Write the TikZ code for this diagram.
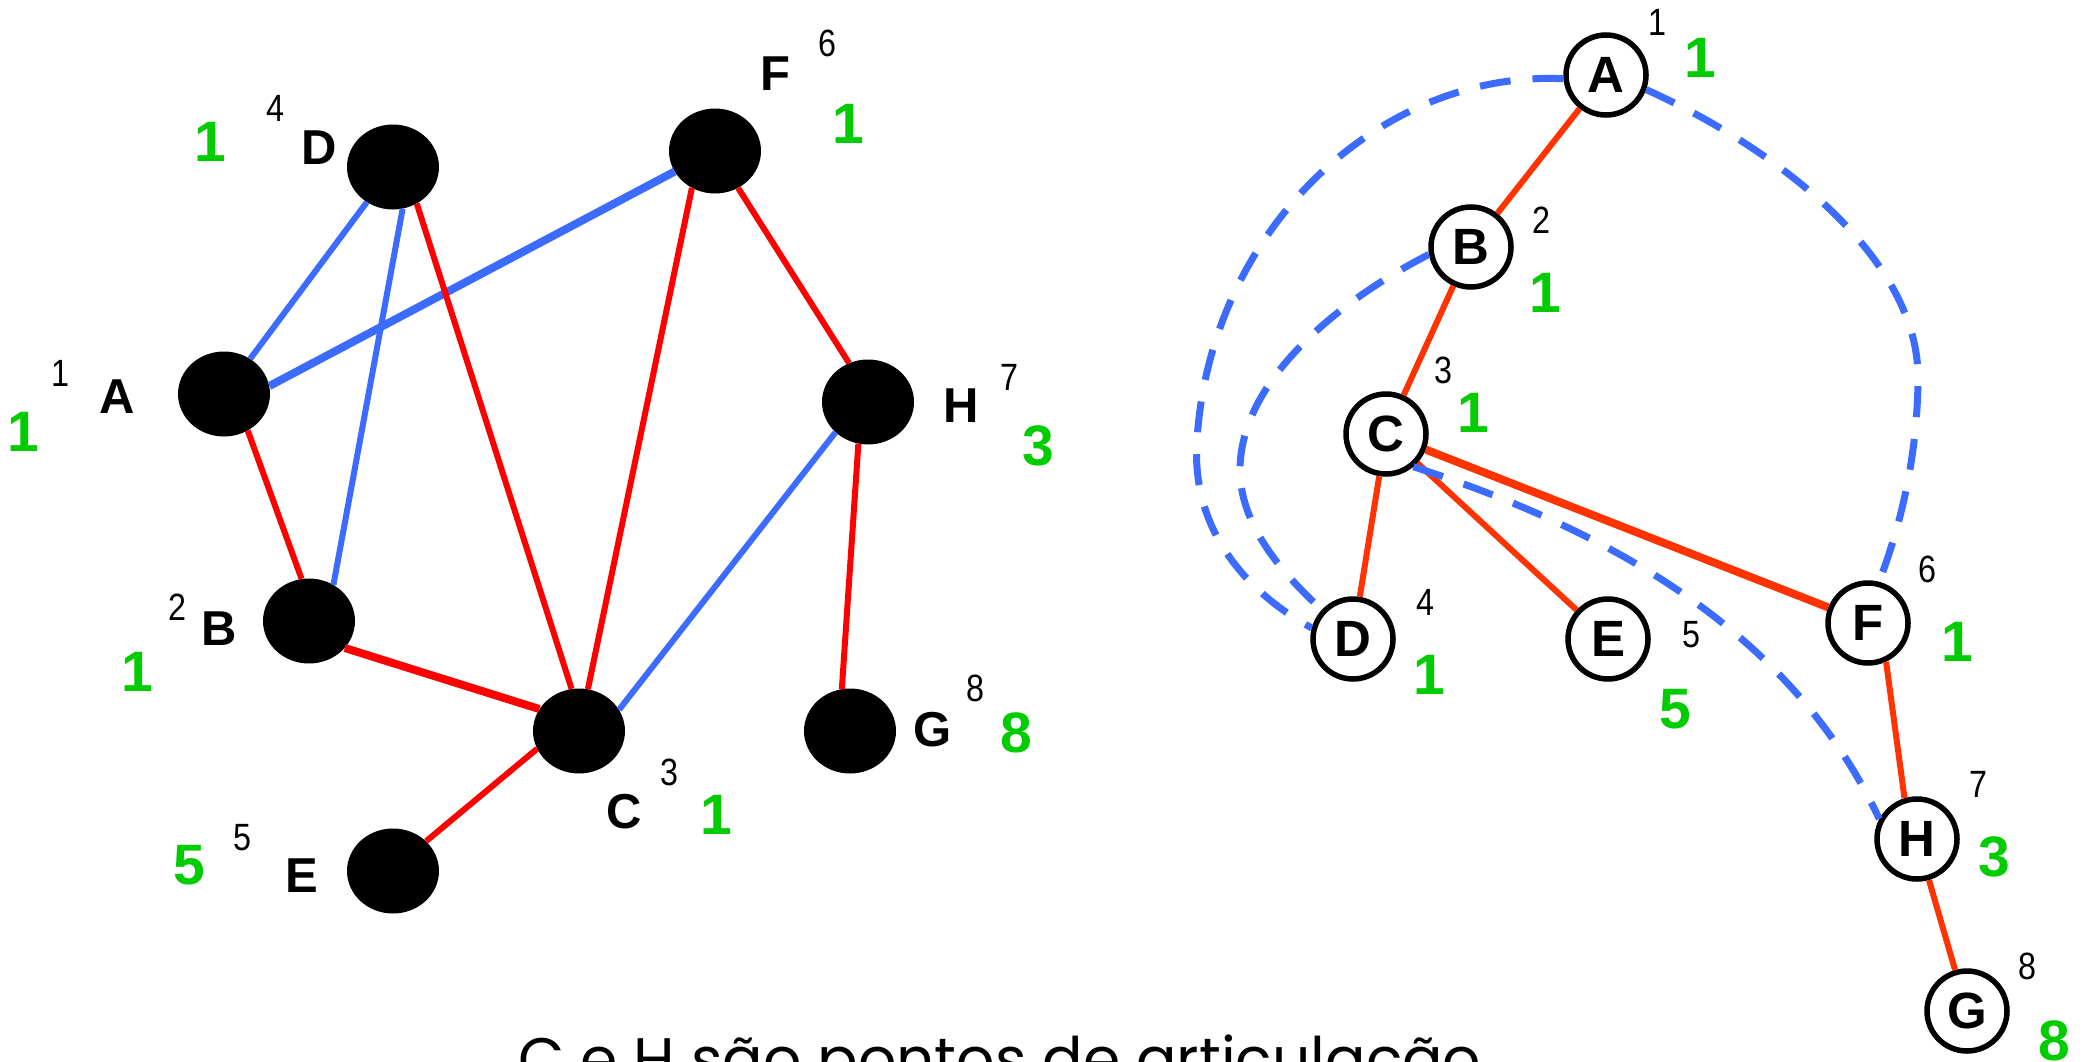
\documentclass[tikz,border=0pt]{standalone}
\usepackage{fontspec}
\setmainfont{Liberation Sans}
\newfontfamily\narrowfont[FakeStretch=0.85]{Liberation Sans}
\newfontfamily\capfont{Poppins}
\usetikzlibrary{shapes.geometric}
\definecolor{redL}{RGB}{255,0,0}
\definecolor{redR}{RGB}{255,51,0}
\definecolor{blueC}{RGB}{59,107,255}
\definecolor{grn}{RGB}{0,204,0}
\tikzset{
  lbl/.style={inner sep=0pt,font=\fontsize{49}{49}\selectfont\bfseries},
  sup/.style={inner sep=0pt,font=\fontsize{38}{38}\selectfont\narrowfont},
  grnum/.style={inner sep=0pt,text=grn,font=\fontsize{57}{57}\selectfont\bfseries},
  dot/.style={ellipse,fill=black,minimum width=92pt,minimum height=85pt,inner sep=0pt},
  tnode/.style={circle,draw=black,line width=5.5pt,fill=white,minimum size=80pt,inner sep=0pt,font=\fontsize{51}{51}\selectfont\bfseries},
  redl/.style={draw=redL,line width=6pt},
  redr/.style={draw=redR,line width=6pt},
  bluel/.style={draw=blueC,line width=6pt},
  backedge/.style={draw=blueC,line width=7pt,dash pattern=on 31pt off 22pt},
}
\begin{document}
\begin{tikzpicture}[x=1pt,y=-1pt]
\useasboundingbox[fill=white] (0,0) rectangle (2087,1062);
% ---------- left graph ----------
\node[dot] (lD) at (393,167) {};
\node[dot] (lF) at (715,151) {};
\node[dot] (lA) at (224,394) {};
\node[dot] (lH) at (868,402) {};
\node[dot] (lB) at (309,621) {};
\node[dot] (lC) at (579,731) {};
\node[dot] (lG) at (850,731) {};
\node[dot] (lE) at (393,871) {};
% labels
\node[lbl] (tD) at (319,148) {D};
\node[sup] (sD) at (275,108) {4};
\node[grnum] (gD) at (210,142) {1};
\node[lbl] (tF) at (775,74) {F};
\node[sup] (sF) at (827,43) {6};
\node[grnum] (gF) at (848,124) {1};
\node[lbl] (tA) at (117,397) {A};
\node[sup] (sA) at (60,373) {1};
\node[grnum] (gA) at (23,432) {1};
\node[lbl] (tH) at (961,406) {H};
\node[sup] (sH) at (1009,377) {7};
\node[grnum] (gH) at (1038,446) {3};
\node[lbl] (tB) at (219,629) {B};
\node[sup] (sB) at (177,607) {2};
\node[grnum] (gB) at (137,672) {1};
\node[lbl] (tC) at (624,812) {C};
\node[sup] (sC) at (669,772) {3};
\node[grnum] (gC) at (716,815) {1};
\node[lbl] (tG) at (933,730) {G};
\node[sup] (sG) at (975,688) {8};
\node[grnum] (gG) at (1016,733) {8};
\node[lbl] (tE) at (302,876) {E};
\node[sup] (sE) at (242,838) {5};
\node[grnum] (gE) at (189,865) {5};
% edges
\draw[bluel] (lD) -- (lA);
\draw[bluel] (lD.283) -- (lB.56);
\draw[bluel,line width=8pt] (lA.10) -- (lF.207);
\draw[bluel] (lC.28) -- (lH.223);
\draw[redl] (lD.303) -- (lC.100);
\draw[redl] (lF.238) -- (lC.78);
\draw[redl] (lF.302) -- (lH.116);
\draw[redl] (lA.303) -- (lB.100);
\draw[redl,line width=8pt] (lB.323) -- (lC.151);
\draw[redl] (lC.203) -- (lE.42);
\draw[redl] (lH.257) -- (lG.101);
% ---------- right tree ----------
\node[tnode] (rA) at (1606,75) {A};
\node[tnode] (rB) at (1471,247) {B};
\node[tnode] (rC) at (1386,434) {C};
\node[tnode] (rD) at (1353,639) {D};
\node[tnode] (rE) at (1608,639) {E};
\node[tnode] (rF) at (1868,623) {F};
\node[tnode] (rH) at (1917,839) {H};
\node[tnode] (rG) at (1967,1011) {G};
\node[sup] (uA) at (1657,22) {1};
\node[grnum] (vA) at (1700,58) {1};
\node[sup] (uB) at (1541,220) {2};
\node[grnum] (vB) at (1545,293) {1};
\node[sup] (uC) at (1443,370) {3};
\node[grnum] (vC) at (1473,413) {1};
\node[sup] (uD) at (1425,602) {4};
\node[grnum] (vD) at (1429,675) {1};
\node[sup] (uE) at (1691,635) {5};
\node[grnum] (vE) at (1675,709) {5};
\node[sup] (uF) at (1927,569) {6};
\node[grnum] (vF) at (1957,642) {1};
\node[sup] (uH) at (1978,784) {7};
\node[grnum] (vH) at (1994,857) {3};
\node[sup] (uG) at (2027,966) {8};
\node[grnum] (vG) at (2054,1041) {8};
% tree edges
\draw[redr] (rA) -- (rB);
\draw[redr] (rB) -- (rC);
\draw[redr] (rC) -- (rD);
\draw[redr] (rC) -- (rE);
\draw[redr,line width=8pt] (rC) -- (rF);
\draw[redr] (rF.295) -- (rH.107);
\draw[redr] (rH) -- (rG);
% back edges
\draw[backedge] (rA.185) .. controls (1380,70) and (1210,230) .. (1197,440)
   .. controls (1190,540) and (1260,600) .. (rD.165);
\draw[backedge] (rB.190) .. controls (1340,300) and (1240,380) .. (1240,470)
   .. controls (1240,530) and (1290,580) .. (rD.137);
\draw[backedge] (rC.310) .. controls (1640,540) and (1800,650) .. (rH.152);
\draw[backedge] (rA.-20) .. controls (1780,150) and (1920,260) .. (1918,380)
   .. controls (1917,470) and (1895,540) .. (rF.75);
% caption
\node[inner sep=0pt,anchor=base west,font=\fontsize{60}{60}\selectfont\capfont] (cap) at (518,1080) {C e H são pontos de articulação};
\end{tikzpicture}
\end{document}
